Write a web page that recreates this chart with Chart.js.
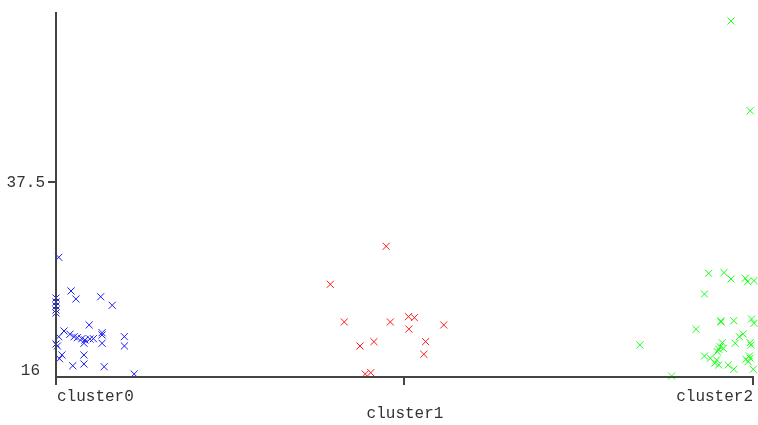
<!DOCTYPE html>
<html>
<head>
<meta charset="utf-8">
<script src="https://cdn.jsdelivr.net/npm/chart.js@4/dist/chart.umd.min.js"></script>
<style>
html,body{margin:0;padding:0;background:#fff;}
#wrap{width:758px;height:425px;position:relative;}
</style>
</head>
<body>
<div id="wrap"><canvas id="c" width="758" height="425"></canvas></div>
<script>
// Categories (x positions 0,1,2) and tick labels
const categories = ["cluster0", "cluster1", "cluster2"];
const yTickValues = [16, 37.5];
const yTickLabels = ["16", "37.5"];

// cluster0 (x = category index + jitter)
const cluster0X = [0.008,0.043,0.057,0.128,0.161,0,0,0,0,0,0.095,0.023,0.008,0.040,0.052,0.061,0.074,0.083,0.097,0.107,0.132,0.132,0.132,0.080,0,0.004,0.196,0.196,0.017,0.010,0.080,0.080,0.048,0.138,0.224];
const cluster0Y = [29.15,25.42,24.53,24.78,23.83,24.64,24.20,23.75,23.31,22.98,21.65,20.98,20.35,20.62,20.35,20.24,20.13,19.98,20.09,20.13,20.79,20.54,19.62,19.62,19.54,19.32,20.35,19.32,18.32,17.91,18.32,17.32,17.13,17.02,16.21];

// cluster1
const cluster1X = [0.946,0.786,0.826,0.958,1.010,1.027,1.011,1.111,0.911,0.871,1.059,1.054,0.886,0.902];
const cluster1Y = [30.37,26.16,21.98,21.98,22.57,22.46,21.20,21.65,19.80,19.32,19.80,18.40,16.21,16.36];

// cluster2
const cluster2X = [1.934,1.989,1.870,1.914,1.934,1.975,1.982,2.000,1.858,1.905,1.905,1.942,1.993,2.000,1.834,1.673,1.989,1.991,1.969,1.958,1.946,1.909,1.903,1.899,1.895,1.912,1.858,1.875,1.893,1.899,1.888,1.926,1.942,1.977,1.987,1.989,1.983,1.998,1.764];
const cluster2Y = [55.35,45.40,27.38,27.45,26.75,26.82,26.45,26.56,25.08,22.09,21.98,22.12,22.31,21.84,21.17,19.43,19.68,19.43,20.65,20.35,19.62,19.68,19.24,18.95,18.69,19.06,18.21,17.96,17.77,17.21,17.40,17.21,16.74,17.84,18.21,17.96,17.58,16.74,15.99];

const colors = ["#1a1aff", "#ff1a1a", "#1aff1a"];
const FONT = "16px 'Liberation Mono', 'DejaVu Sans Mono', monospace";

function pts(xs, ys){ return xs.map((x,i)=>({x:x, y:ys[i]})); }

const axisPlugin = {
  id: 'wekaAxes',
  afterDraw(chart){
    const ctx = chart.ctx;
    const xs = chart.scales.x, ys = chart.scales.y;
    const left = xs.getPixelForValue(0), right = xs.getPixelForValue(2);
    const top = chart.chartArea.top, bottom = chart.chartArea.bottom;
    ctx.save();
    ctx.strokeStyle = '#444';
    ctx.lineWidth = 2;
    ctx.beginPath();
    ctx.moveTo(left, top); ctx.lineTo(left, bottom + 8);
    ctx.moveTo(left, bottom); ctx.lineTo(right, bottom);
    // x ticks
    for (let i = 1; i < categories.length; i++) {
      const px = Math.round(xs.getPixelForValue(i)) - 1;
      ctx.moveTo(px, bottom); ctx.lineTo(px, bottom + 8);
    }
    // y tick for mid value
    const py = ys.getPixelForValue(yTickValues[1]);
    ctx.moveTo(left - 8, py); ctx.lineTo(left, py);
    ctx.stroke();

    ctx.fillStyle = '#333';
    ctx.font = FONT;
    ctx.textBaseline = 'middle';
    ctx.textAlign = 'right';
    ctx.fillText(yTickLabels[1], left - 11, py + 1);
    ctx.fillText(yTickLabels[0], left - 16, ys.getPixelForValue(yTickValues[0]) - 5);

    ctx.textAlign = 'left';
    ctx.fillText(categories[0], left + 1, bottom + 20);
    ctx.textAlign = 'center';
    ctx.fillText(categories[1], xs.getPixelForValue(1), bottom + 37);
    ctx.textAlign = 'right';
    ctx.fillText(categories[2], right - 1, bottom + 20);
    ctx.restore();
  }
};

const series = [[cluster0X, cluster0Y],[cluster1X, cluster1Y],[cluster2X, cluster2Y]];

new Chart(document.getElementById('c'), {
  type: 'scatter',
  data: {
    datasets: series.map((s, i) => ({
      label: categories[i],
      data: pts(s[0], s[1]),
      pointStyle: 'crossRot',
      pointRadius: 5,
      pointBorderWidth: 1,
      borderColor: colors[i],
      backgroundColor: colors[i],
      showLine: false,
      clip: false
    }))
  },
  options: {
    responsive: false,
    animation: false,
    layout: { autoPadding: false, padding: { left: 56, top: 12, right: 4, bottom: 48 } },
    plugins: { legend: { display: false }, tooltip: { enabled: false } },
    scales: {
      x: { type: 'linear', min: 0, max: 2, display: false },
      y: { type: 'linear', min: 15.88, max: 56.35, display: false }
    }
  },
  plugins: [axisPlugin]
});
</script>
</body>
</html>
